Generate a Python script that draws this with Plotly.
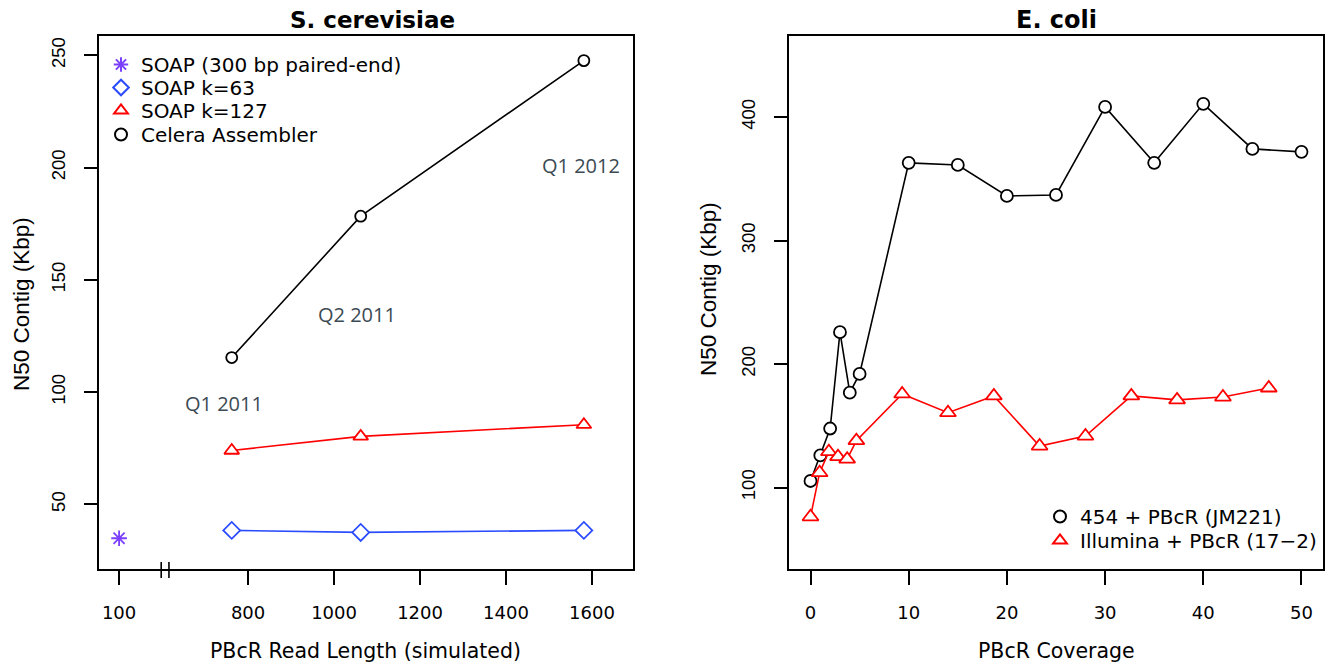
import plotly.graph_objects as go

W, H = 1333, 665

# ---------------- Data: S. cerevisiae (left) ----------------
read_len = [762, 1062, 1581]
celera = [115.4, 178.4, 247.7]
soap_k127 = [74.0, 80.3, 85.5]
soap_k63 = [38.4, 37.5, 38.4]
soap300_len = [100]          # plotted at the broken-axis position
soap300_val = [34.9]
BREAK_POS = 500              # axis position used for the 100 bp read
left_ticks = [100, 800, 1000, 1200, 1400, 1600]
left_yticks = [50, 100, 150, 200, 250]
quarter_x = [745, 1054, 1574]
quarter_y = [95, 134.6, 201]
quarter_txt = ["Q1 2011", "Q2 2011", "Q1 2012"]

# ---------------- Data: E. coli (right) ----------------
cov_454 = [0, 1, 2, 3, 4, 5, 10, 15, 20, 25, 30, 35, 40, 45, 50]
n50_454 = [105.3, 126, 147.8, 225.8, 176.8, 192, 363, 361.3, 336.2, 337,
           408.3, 363, 410.8, 374.3, 371.9]
cov_ill = [0, 0.93, 1.87, 2.8, 3.73, 4.67, 9.33, 14, 18.67, 23.33, 28,
           32.67, 37.33, 42, 46.67]
n50_ill = [76.3, 112, 129, 125, 123, 138, 175.8, 160.6, 174.2, 133.6,
           141.7, 174.2, 171, 173.3, 180.6]
right_xticks = [0, 10, 20, 30, 40, 50]
right_yticks = [100, 200, 300, 400]

PURPLE = "#7b3fff"
BLUE = "#2a4bff"
RED = "#ff0000"
BLACK = "#000000"
FONT = "DejaVu Sans"
VFONT = "Liberation Sans"
LEG_FS = 20


def to_axis(v):
    return [BREAK_POS if x == 100 else x for x in v]


def px_x(p):
    return p / W


def px_y(p):
    return 1 - p / H


fig = go.Figure()


def add_series(x, y, color, symbol, size, name, xa, ya, legend):
    fig.add_trace(go.Scatter(
        x=x, y=y, mode="lines+markers",
        line=dict(color=color, width=1.6),
        marker=dict(symbol=symbol, size=size, color="white",
                    line=dict(color=color, width=1.8)),
        xaxis=xa, yaxis=ya, showlegend=False, name=name, hoverinfo="skip"))
    fig.add_trace(go.Scatter(
        x=[None], y=[None], mode="markers",
        marker=dict(symbol=symbol, size=size, color="white",
                    line=dict(color=color, width=1.8)),
        xaxis=xa, yaxis=ya, showlegend=True, name=name, legend=legend))


# left panel
fig.add_trace(go.Scatter(
    x=to_axis(soap300_len), y=soap300_val, mode="markers",
    marker=dict(symbol="asterisk-open", size=13, color=PURPLE,
                line=dict(color=PURPLE, width=1.8)),
    xaxis="x", yaxis="y", showlegend=True, name="SOAP (300 bp paired-end)",
    legend="legend"))
add_series(read_len, soap_k63, BLUE, "diamond", 13, "SOAP k=63", "x", "y", "legend3")
add_series(read_len, soap_k127, RED, "triangle-up", 13, "SOAP k=127", "x", "y", "legend4")
add_series(read_len, celera, BLACK, "circle", 11, "Celera Assembler", "x", "y", "legend5")

# right panel
add_series(cov_454, n50_454, BLACK, "circle", 12, "454 + PBcR (JM221)", "x2", "y2", "legend2")
add_series(cov_ill, n50_ill, RED, "triangle-up", 14, "Illumina + PBcR (17\u22122)", "x2", "y2", "legend6")

axis_common = dict(showline=True, mirror=True, linecolor="black", linewidth=1.5,
                   ticks="outside", ticklen=14, tickwidth=1.5, tickcolor="black",
                   showgrid=False, zeroline=False)


def leg(xp, yc):
    return dict(x=px_x(xp), y=px_y(yc - 20), xanchor="left", yanchor="top",
                bgcolor="rgba(0,0,0,0)",
                font=dict(family=FONT, size=LEG_FS, color="black"),
                itemsizing="constant")


fig.update_layout(
    width=W, height=H,
    margin=dict(l=0, r=0, t=0, b=0),
    paper_bgcolor="white", plot_bgcolor="white",
    xaxis=dict(domain=[px_x(99.3), px_x(633.3)], range=[454, 1696],
               tickvals=to_axis(left_ticks), ticktext=[str(t) for t in left_ticks],
               tickfont=dict(family=FONT, size=18, color="black"),
               ticklabelstandoff=13, anchor="y", **axis_common),
    yaxis=dict(domain=[px_y(569), px_y(35.7)], range=[21.2, 258.8],
               tickvals=left_yticks, tickangle=-90,
               tickfont=dict(family=VFONT, size=18.5, color="black"),
               ticklabelstandoff=11, anchor="x", **axis_common),
    xaxis2=dict(domain=[px_x(789.3), px_x(1322.7)], range=[-2.16, 52.16],
                tickvals=right_xticks,
                tickfont=dict(family=FONT, size=18, color="black"),
                ticklabelstandoff=13, anchor="y2", **axis_common),
    yaxis2=dict(domain=[px_y(569), px_y(35.7)], range=[34, 466],
                tickvals=right_yticks, tickangle=-90,
                tickfont=dict(family=VFONT, size=18.5, color="black"),
                ticklabelstandoff=11, anchor="x2", **axis_common),
    legend=leg(101, 65),
    legend3=leg(101, 88),
    legend4=leg(101, 111),
    legend5=leg(101, 135),
    legend2=leg(1040, 517),
    legend6=leg(1040, 541),
)

ann = []


def add_ann(text, x, y, size, family=FONT, color="black", angle=0, xref="paper", yref="paper"):
    ann.append(dict(text=text, x=x, y=y, xref=xref, yref=yref, showarrow=False,
                    xanchor="center", yanchor="middle", textangle=angle,
                    font=dict(family=family, size=size, color=color)))


add_ann("<b>S. cerevisiae</b>", px_x(372), px_y(20), 23)
add_ann("<b>E. coli</b>", px_x(1056), px_y(20), 24)
add_ann("PBcR Read Length (simulated)", px_x(366), px_y(651), 20.5)
add_ann("PBcR Coverage", px_x(1056), px_y(651), 20.5)
add_ann("N50 Contig (Kbp)", px_x(22), px_y(304), 22.5, family=VFONT, angle=-90)
add_ann("N50 Contig (Kbp)", px_x(708), px_y(289), 22.5, family=VFONT, angle=-90)
for qx, qy, qt in zip(quarter_x, quarter_y, quarter_txt):
    add_ann(qt, qx, qy, 20, family="Open Sans", color="#3b4a53", xref="x", yref="y")
fig.update_layout(annotations=ann)

# axis break marks on the left x axis
for bx in [598, 616]:
    fig.add_shape(type="line", xref="x", yref="paper", x0=bx, x1=bx,
                  y0=px_y(578), y1=px_y(562), line=dict(color="black", width=1.6))

fig.write_html("out.html", config={"displayModeBar": False},
               post_script="document.body.style.margin='0px';")
